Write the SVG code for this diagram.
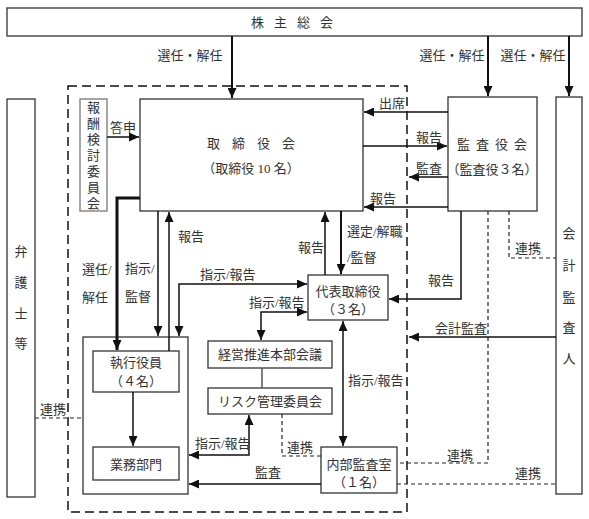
<svg xmlns="http://www.w3.org/2000/svg" width="589" height="519" viewBox="0 0 589 519">
<style>
text{font-family:"Liberation Serif","Noto Sans CJK JP",serif;font-size:13px;fill:#333}
.c{text-anchor:middle}
.box{fill:#fff;stroke:#333;stroke-width:1.3}
.gbox{fill:#fff;stroke:#777;stroke-width:1.3}
.ln{fill:none;stroke:#111;stroke-width:1.5}
.thk{fill:none;stroke:#111;stroke-width:2}
.thk3{fill:none;stroke:#111;stroke-width:3}
.ds{fill:none;stroke:#222;stroke-width:1.2;stroke-dasharray:4 3}
.bd{fill:none;stroke:#111;stroke-width:1.5;stroke-dasharray:9 5}
</style>
<defs>
<marker id="a" markerUnits="userSpaceOnUse" markerWidth="10" markerHeight="9" refX="10" refY="4.5" orient="auto-start-reverse">
<path d="M0,0 L10,4.5 L0,9 z" fill="#111"/>
</marker>
</defs>
<rect width="589" height="519" fill="#fff"/>
<rect class="bd" x="68" y="86" width="339" height="426"/>
<g id="kabunushi"><rect class="box" x="7" y="8" width="575" height="28"/><text class="c" x="297" y="27" letter-spacing="10">株主総会</text></g>
<g id="housyu"><rect class="gbox" x="80" y="99" width="27" height="112"/>
<text class="c" x="93.5" y="112">報</text><text class="c" x="93.5" y="128">酬</text><text class="c" x="93.5" y="144">検</text><text class="c" x="93.5" y="160">討</text><text class="c" x="93.5" y="176">委</text><text class="c" x="93.5" y="192">員</text><text class="c" x="93.5" y="208">会</text></g>
<g id="torishimariyakukai"><rect class="box" x="140" y="99" width="223" height="112"/><text class="c" x="257" y="148" letter-spacing="12">取締役会</text><text class="c" x="251" y="173">（取締役 10 名）</text></g>
<g id="kansayakukai"><rect class="box" x="448" y="97" width="89" height="114"/><text class="c" x="495" y="149" letter-spacing="6">監査役会</text><text class="c" x="492" y="174">（監査役３名）</text></g>
<g id="kaikei"><rect class="box" x="556" y="97" width="26" height="397"/>
<text class="c" x="569" y="238">会</text><text class="c" x="569" y="270">計</text><text class="c" x="569" y="302">監</text><text class="c" x="569" y="332">査</text><text class="c" x="569" y="363">人</text></g>
<g id="bengoshi"><rect class="box" x="7" y="99" width="28" height="398"/>
<text class="c" x="21" y="256">弁</text><text class="c" x="21" y="287">護</text><text class="c" x="21" y="318">士</text><text class="c" x="21" y="348">等</text></g>
<g id="daihyo"><rect class="box" x="308" y="275" width="80" height="45"/><text class="c" x="348" y="296">代表取締役</text><text class="c" x="348" y="314">（３名）</text></g>
<g id="shikkou-group"><rect class="box" x="83" y="337" width="105" height="157"/></g>
<g id="shikkou"><rect class="box" x="93" y="351" width="86" height="41"/><text class="c" x="136" y="367">執行役員</text><text class="c" x="136" y="386">（４名）</text></g>
<g id="gyoumu"><rect class="box" x="93" y="447" width="86" height="33"/><text class="c" x="136" y="469">業務部門</text></g>
<g id="keiei"><rect class="box" x="208" y="341" width="124" height="27"/><text class="c" x="270" y="359">経営推進本部会議</text></g>
<g id="risk"><rect class="box" x="208" y="388" width="124" height="26"/><text class="c" x="270" y="406">リスク管理委員会</text></g>
<g id="naibu"><rect class="box" x="321" y="447" width="76" height="46"/><text class="c" x="359" y="469">内部監査室</text><text class="c" x="359" y="487">（１名）</text></g>
<g id="connectors">
<path class="thk" d="M232,36 V98" marker-end="url(#a)"/>
<path class="thk" d="M488,36 V96" marker-end="url(#a)"/>
<path class="thk" d="M569,36 V96" marker-end="url(#a)"/>
<path class="ln" d="M107,137 H139" marker-end="url(#a)"/>
<path class="ln" d="M448,112 H364" marker-end="url(#a)"/>
<path class="ln" d="M363,146 H447" marker-end="url(#a)"/>
<path class="ln" d="M448,177 H409" marker-end="url(#a)"/>
<path class="ln" d="M448,207 H364" marker-end="url(#a)"/>
<path class="thk3" d="M140,198 H117 V350" marker-end="url(#a)"/>
<path class="ln" d="M158,211 V336" marker-end="url(#a)"/>
<path class="ln" d="M169,351 V212" marker-end="url(#a)"/>
<path class="ln" d="M179,336 V284 H307" marker-start="url(#a)" marker-end="url(#a)"/>
<path class="ln" d="M325,275 V212" marker-end="url(#a)"/>
<path class="thk" d="M341,211 V274" marker-end="url(#a)"/>
<path class="ln" d="M461,211 V299 H389" marker-end="url(#a)"/>
<path class="ds" d="M509,211 V258 H556"/>
<path class="ds" d="M488,211 V463 H397"/>
<path class="ln" d="M556,337 H409" marker-end="url(#a)"/>
<path class="ln" d="M307,312 H261 V340" marker-start="url(#a)" marker-end="url(#a)"/>
<path class="ln" d="M262,368 V388" style="stroke:#555"/>
<path class="ln" d="M249,415 V455 H189" marker-start="url(#a)" marker-end="url(#a)"/>
<path class="ds" d="M282,414 V456 H321"/>
<path class="ln" d="M343,321 V446" marker-start="url(#a)" marker-end="url(#a)"/>
<path class="ln" d="M321,484 H189" marker-end="url(#a)"/>
<path class="ds" d="M397,484 H556"/>
<path class="ds" d="M35,418 H83"/>
<path class="ln" d="M133,392 V446" marker-end="url(#a)"/>
</g>
<g id="labels">
<text class="c" x="190" y="60">選任・解任</text>
<text class="c" x="452" y="60">選任・解任</text>
<text class="c" x="533" y="60">選任・解任</text>
<text x="110" y="132">答申</text>
<text x="379" y="108">出席</text>
<text x="416" y="142">報告</text>
<text x="416" y="173">監査</text>
<text x="370" y="203">報告</text>
<text x="82" y="274">選任/</text>
<text x="82" y="302">解任</text>
<text x="125" y="273">指示/</text>
<text x="125" y="301">監督</text>
<text x="178" y="241">報告</text>
<text x="200" y="279">指示/報告</text>
<text x="298" y="252">報告</text>
<text x="347" y="236">選定/解職</text>
<text x="347" y="262">/監督</text>
<text x="428" y="285">報告</text>
<text x="515" y="253">連携</text>
<text x="435" y="333">会計監査</text>
<text x="249" y="307">指示/報告</text>
<text x="348" y="385">指示/報告</text>
<text x="195" y="448">指示/報告</text>
<text x="287" y="452">連携</text>
<text x="447" y="460">連携</text>
<text x="515" y="478">連携</text>
<text x="255" y="477">監査</text>
<text x="40" y="414">連携</text>
</g>
</svg>
